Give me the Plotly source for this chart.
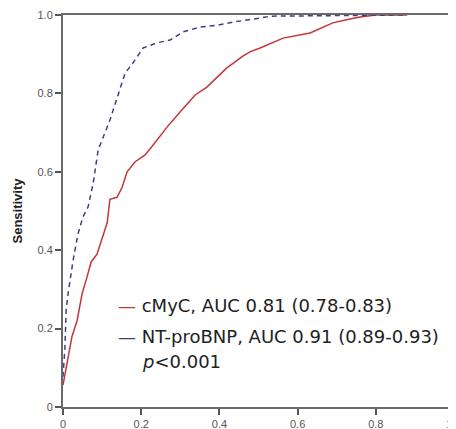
import plotly.graph_objects as go

# ROC curve points (1 - specificity, sensitivity)
cmyc_fpr = [0.0, 0.013, 0.023, 0.036, 0.049, 0.061, 0.072, 0.087, 0.10, 0.113, 0.12, 0.138,
            0.151, 0.164, 0.184, 0.21, 0.228, 0.266, 0.30, 0.338, 0.368, 0.419, 0.46, 0.478,
            0.504, 0.563, 0.632, 0.665, 0.69, 0.734, 0.76, 0.80, 0.88]
cmyc_tpr = [0.056, 0.128, 0.18, 0.22, 0.29, 0.33, 0.37, 0.39, 0.43, 0.47, 0.53, 0.535,
            0.56, 0.60, 0.625, 0.643, 0.665, 0.714, 0.753, 0.796, 0.816, 0.865, 0.895, 0.906,
            0.916, 0.941, 0.954, 0.969, 0.98, 0.99, 0.995, 1.0, 1.0]

bnp_fpr = [0.0, 0.005, 0.008, 0.013, 0.026, 0.038, 0.051, 0.064, 0.077, 0.09, 0.12, 0.146,
           0.159, 0.179, 0.205, 0.24, 0.274, 0.307, 0.35, 0.394, 0.435, 0.504, 0.53, 0.88]
bnp_tpr = [0.077, 0.153, 0.247, 0.29, 0.375, 0.44, 0.485, 0.51, 0.57, 0.656, 0.732, 0.81,
           0.852, 0.878, 0.916, 0.929, 0.936, 0.957, 0.969, 0.974, 0.982, 0.992, 0.997, 1.0]

legend_labels = ["cMyC, AUC 0.81 (0.78-0.83)", "NT-proBNP, AUC 0.91 (0.89-0.93)"]
p_text = "<i>p</i><0.001"

tick_vals = [0, 0.2, 0.4, 0.6, 0.8, 1.0]
tick_text = ["0", "0.2", "0.4", "0.6", "0.8", "1.0"]

RED = "#c0363a"
BLUE = "#3c3f86"

fig = go.Figure()
fig.add_trace(go.Scatter(x=cmyc_fpr, y=cmyc_tpr, mode="lines", name=legend_labels[0],
                         line=dict(color=RED, width=1.5)))
fig.add_trace(go.Scatter(x=bnp_fpr, y=bnp_tpr, mode="lines", name=legend_labels[1],
                         line=dict(color=BLUE, width=1.5, dash="5px,4px")))

# legend drawn as text so the line keys stay short
leg_font = dict(family="DejaVu Sans", size=18, color="#222")
rows = [(legend_labels[0], RED, 0.26), (legend_labels[1], BLUE, 0.179)]
for label, col, yy in rows:
    fig.add_annotation(x=0.135, y=yy, xref="x", yref="y", xanchor="left", showarrow=False,
                       text=f"<span style='color:{col}'>—</span> {label}", font=leg_font)
fig.add_annotation(x=0.198, y=0.115, xref="x", yref="y", xanchor="left", showarrow=False,
                   text=p_text, font=leg_font)

axis_common = dict(
    range=[0, 1], tickvals=tick_vals, ticktext=tick_text, automargin=False,
    showgrid=False, zeroline=False, showline=True, mirror=True,
    linecolor="#6a6a6a", linewidth=2, ticks="outside", ticklen=6, tickwidth=2,
    tickcolor="#555", tickfont=dict(family="Arial", size=11, color="#555"),
)

fig.update_xaxes(**axis_common)
fig.update_yaxes(**axis_common,
                 title=dict(text="<b>Sensitivity</b>", standoff=12,
                            font=dict(family="Arial", size=13, color="#222")))

# the page body adds an 8px offset, so margins are trimmed to compensate
fig.update_layout(
    width=456, height=429,
    margin=dict(l=55, r=10, t=7, b=30),
    plot_bgcolor="white", paper_bgcolor="white",
    showlegend=False,
)

fig.write_html("out.html")
